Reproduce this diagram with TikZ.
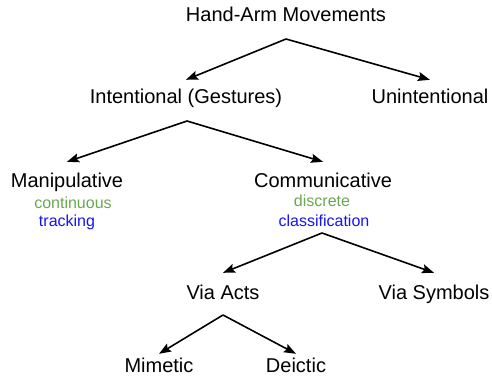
\documentclass[tikz,border=0pt]{standalone}
\usepackage{fontspec}
\setmainfont{Liberation Sans}
\usetikzlibrary{arrows.meta}
\definecolor{notegreen}{RGB}{106,168,79}
\definecolor{noteblue}{RGB}{20,20,250}

\begin{document}
\begin{tikzpicture}[x=1pt,y=-1pt,
    class/.style={inner sep=0pt,font=\fontsize{20}{24}\selectfont,text height=14pt,text depth=4pt},
    note/.style={inner sep=0pt,font=\fontsize{16}{19}\selectfont,text height=11pt,text depth=3pt},
    branch/.style={line width=1.6pt,-{Stealth[length=12pt,width=9pt,inset=2pt]}}]

  \useasboundingbox (0,0) rectangle (492,382);

  \node[class] (hand) at (286,17) {Hand-Arm Movements};
  \node[class] (intent) at (186,99) {Intentional (Gestures)};
  \node[class] (unint) at (430,99) {Unintentional};
  \node[class] (manip) at (67,182) {Manipulative};
  \node[class] (comm) at (323,182) {Communicative};
  \node[class] (acts) at (223,294) {Via Acts};
  \node[class] (symb) at (434,294) {Via Symbols};
  \node[class] (mim) at (159,367) {Mimetic};
  \node[class] (deic) at (296,367) {Deictic};

  \node[note,text=notegreen] (cont) at (73,204) {continuous};
  \node[note,text=noteblue] (track) at (67,222) {tracking};
  \node[note,text=notegreen] (disc) at (322,202) {discrete};
  \node[note,text=noteblue] (classif) at (324,222) {classification};

  \coordinate (split1) at (286,39);
  \coordinate (split2) at (187,121);
  \coordinate (split3) at (322,233);
  \coordinate (split4) at (223,315);

  \draw[branch] (split1) -- ([yshift=10pt]intent.north);
  \draw[branch] (split1) -- ([yshift=10pt]unint.north);
  \draw[branch] (split2) -- ([yshift=11pt]manip.north);
  \draw[branch] (split2) -- ([yshift=11pt]comm.north);
  \draw[branch] (split3) -- ([yshift=12pt]acts.north);
  \draw[branch] (split3) -- ([yshift=12pt]symb.north);
  \draw[branch] (split4) -- ([yshift=4pt]mim.north);
  \draw[branch] (split4) -- ([yshift=4pt]deic.north);

\end{tikzpicture}
\end{document}
